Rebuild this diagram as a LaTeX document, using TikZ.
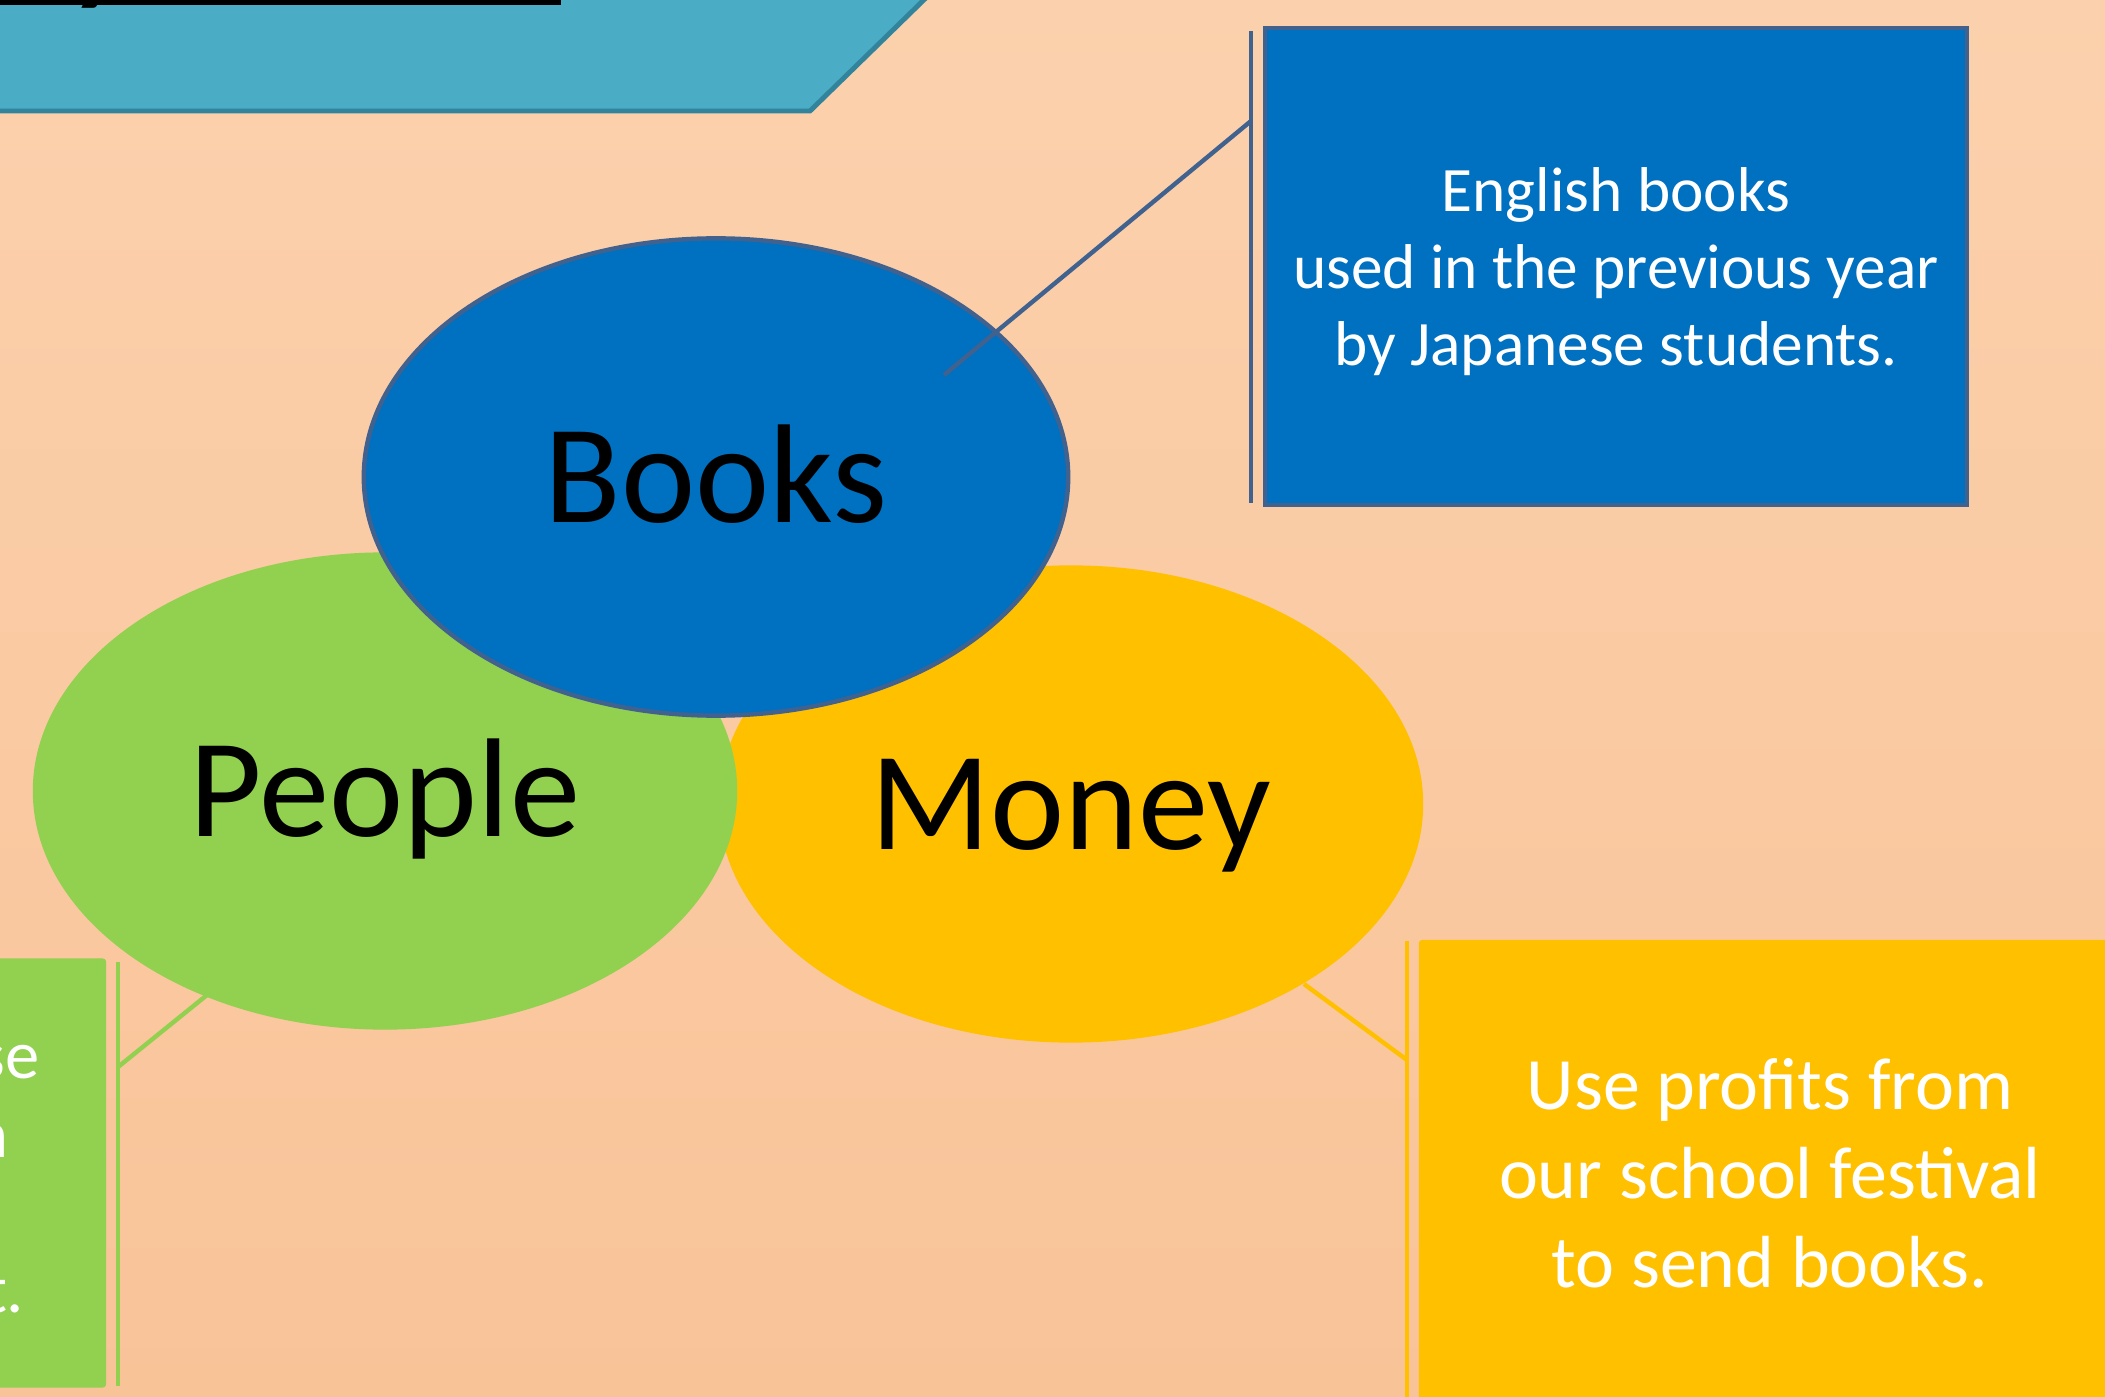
\documentclass[tikz,border=0pt]{standalone}
\usepackage{fontspec}
\setmainfont{Carlito}
\usetikzlibrary{shapes.geometric}

\definecolor{peachtop}{HTML}{FBD1AD}
\definecolor{peachbot}{HTML}{F9C398}
\definecolor{bannerfill}{HTML}{4BACC6}
\definecolor{bannerline}{HTML}{31849B}
\definecolor{booksblue}{HTML}{0070C0}
\definecolor{booksline}{HTML}{41628F}
\definecolor{peoplegreen}{HTML}{92D050}
\definecolor{moneyyellow}{HTML}{FFC000}

\tikzset{
  topic/.style={ellipse, minimum width=7.04cm, minimum height=4.77cm, inner sep=0pt,
    text height=0.9cm, text depth=0pt, font=\fontsize{40}{40}\selectfont},
  note/.style={rectangle, rounded corners=1pt, inner sep=0pt,
    minimum width=7.02cm, minimum height=4.77cm},
  notetext/.style={inner sep=0pt, text=white, align=center},
  lead/.style={line width=1.25pt},
}

\begin{document}
\begin{tikzpicture}[x=0.01cm,y=-0.01cm]
\useasboundingbox (0,0) rectangle (2105,1397);
\clip (0,0) rectangle (2105,1397);
\fill[top color=peachtop, bottom color=peachbot] (0,0) rectangle (2105,1397);

% title banner
\filldraw[fill=bannerfill, draw=bannerline, line width=1.4pt] (-10,-10) -- (934,-10) -- (810,111) -- (-10,111) -- cycle;
\node[anchor=base west, inner sep=0pt, font=\bfseries\fontsize{34}{34}\selectfont] (titley) at (70,-10) {y};
\draw[line width=1.4pt] (0,2.5) -- (561,2.5);

% the three topics
\node[topic, fill=moneyyellow] (money) at (1071,804) {Money};
\node[topic, fill=peoplegreen] (people) at (385,791) {People};
\node[topic, fill=booksblue, draw=booksline, line width=1.25pt] (books) at (716,477) {Books};

% books note
\node[note, fill=booksblue, draw=booksline, rounded corners=0pt, line width=1.25pt] (booksnote) at (1616,266.5) {};
\node[notetext, font=\fontsize{18}{22}\selectfont] (bookstext) at ([yshift=-0.05cm]booksnote.center) {English books\\used in the previous year\\by Japanese students.};
\coordinate (bookstop) at (1251,31);
\coordinate (booksbot) at (1251,503);
\coordinate (bookselbow) at (1251,121);
\coordinate (bookstip) at (944,375);
\draw[lead, booksline] (bookstop) -- (booksbot);
\draw[lead, booksline] (bookselbow) -- (bookstip);

% money note
\node[note, fill=moneyyellow] (moneynote) at (1770,1178.5) {};
\node[notetext, font=\fontsize{21}{25.3}\selectfont] (moneytext) at ([yshift=0.05cm]moneynote.center) {Use profits from\\our school festival\\to send books.};
\coordinate (moneytop) at (1407,941);
\coordinate (moneybot) at (1407,1420);
\coordinate (moneyelbow) at (1407,1060);
\coordinate (moneytip) at (1304,984);
\draw[lead, moneyyellow] (moneytop) -- (moneybot);
\draw[lead, moneyyellow] (moneyelbow) -- (moneytip);

% people note
\node[note, fill=peoplegreen, minimum height=4.29cm] (peoplenote) at (-245,1173) {};
\begin{scope}[every node/.style={anchor=base east, inner sep=0pt, text=white, font=\fontsize{19.5}{22}\selectfont}]
\node (peoplea) at (40,1078) {se};
\node (peopleb) at (9,1157) {n};
\node (peopled) at (25,1312) {t.};
\end{scope}
\coordinate (peopletop) at (118,962);
\coordinate (peoplebot) at (118,1386);
\coordinate (peopleelbow) at (118,1067);
\coordinate (peopletip) at (207,995);
\draw[lead, peoplegreen] (peopletop) -- (peoplebot);
\draw[lead, peoplegreen] (peopleelbow) -- (peopletip);
\end{tikzpicture}
\end{document}
